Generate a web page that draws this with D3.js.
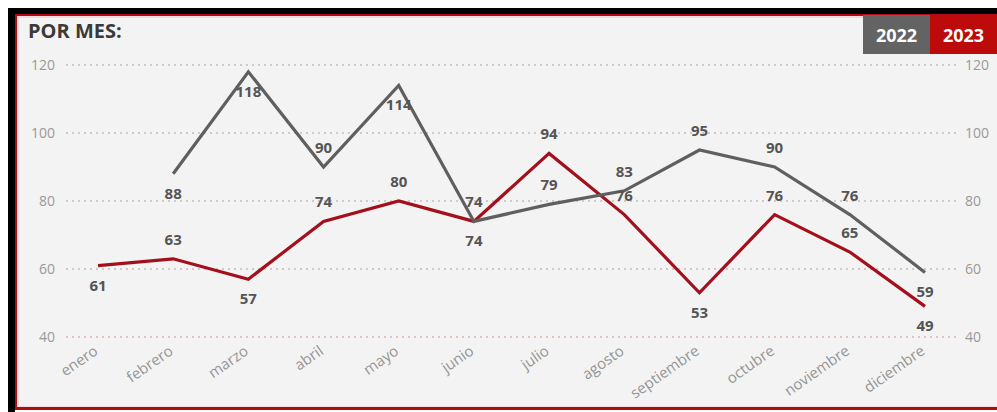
<!DOCTYPE html>
<html><head><meta charset="utf-8">
<script src="https://cdn.jsdelivr.net/npm/d3@7"></script>
<style>
html,body{margin:0;padding:0;background:#fff;overflow:hidden;}
svg{display:block;font-family:"Open Sans",sans-serif;}
</style></head>
<body>
<svg id="c" width="997" height="412"></svg>
<script>
const months = ["enero","febrero","marzo","abril","mayo","junio","julio","agosto","septiembre","octubre","noviembre","diciembre"];
const values2022 = [null,88,118,90,114,74,79,83,95,90,76,59];
const values2023 = [61,63,57,74,80,74,94,76,53,76,65,49];
const labelSide2022 = ["","below","below","above","below","below","above","above","above","above","above","below"];
const labelSide2023 = ["below","above","below","above","above","above","above","above","below","above","above","below"];
const yTicks = [40,60,80,100,120];
const seriesNames = ["2022","2023"];

const svg = d3.select("#c");
// frame (black top & left, thin red inner border)
svg.append("rect").attr("x",8).attr("y",8).attr("width",1000).attr("height",6).attr("fill","#000");
svg.append("rect").attr("x",8).attr("y",8).attr("width",7).attr("height",404).attr("fill","#000");
svg.append("rect").attr("x",15).attr("y",14).attr("width",1000).attr("height",396).attr("fill","#b00d12");
svg.append("rect").attr("x",17).attr("y",16).attr("width",1000).attr("height",391).attr("fill","#f0dcdc");
svg.append("rect").attr("x",19).attr("y",18).attr("width",1000).attr("height",388).attr("fill","#f3f3f3");

const x = d3.scalePoint().domain(months).range([98,925]);
const y = d3.scaleLinear().domain([40,120]).range([337,65]);

// grid
const grid = svg.append("g");
grid.selectAll("line").data(yTicks).join("line")
  .attr("x1",66).attr("x2",957)
  .attr("y1",d=>y(d)).attr("y2",d=>y(d))
  .attr("stroke",d=>d===40?"#dcb4b4":"#c4bcbc").attr("stroke-width",1.3)
  .attr("stroke-dasharray","2,4");

// axes
const axL = svg.append("g").attr("transform","translate(55,0)")
  .call(d3.axisLeft(y).tickValues(yTicks).tickSize(0).tickPadding(0));
const axR = svg.append("g").attr("transform","translate(965,0)")
  .call(d3.axisRight(y).tickValues(yTicks).tickSize(0).tickPadding(0));
[axL,axR].forEach(a=>{
  a.select(".domain").remove();
  a.selectAll("text").attr("fill","#999").style("font-size","14px").style("font-family","'Open Sans',sans-serif");
});
const axB = svg.append("g").attr("transform","translate(0,344)")
  .call(d3.axisBottom(x).tickSize(0).tickPadding(0));
axB.select(".domain").remove();
axB.selectAll("text")
  .attr("fill","#959595").style("font-size","15px").style("font-family","'Open Sans',sans-serif")
  .attr("text-anchor","end").attr("dy","0.75em")
  .attr("transform","translate(-6,0) rotate(-35)");

// lines
const line = d3.line().defined(d=>d.v!=null).x(d=>x(d.m)).y(d=>y(d.v));
const d22 = months.map((m,i)=>({m, v:values2022[i], side:labelSide2022[i]}));
const d23 = months.map((m,i)=>({m, v:values2023[i], side:labelSide2023[i]}));
svg.append("path").datum(d23).attr("d",line).attr("fill","none")
  .attr("stroke","#a3101c").attr("stroke-width",3.2).attr("stroke-linejoin","miter");
svg.append("path").datum(d22).attr("d",line).attr("fill","none")
  .attr("stroke","#5f5f5f").attr("stroke-width",3.2).attr("stroke-linejoin","miter");

// labels
function labels(data){
  svg.append("g").selectAll("text").data(data.filter(d=>d.v!=null)).join("text")
    .attr("x",d=>x(d.m)).attr("y",d=>y(d.v)+(d.side==="above"?-14:25))
    .attr("text-anchor","middle").attr("fill","#555").style("font-size","15px").style("font-weight","bold")
    .style("font-family","'Open Sans',sans-serif")
    .text(d=>d.v);
}
labels(d23);
labels(d22);

// title
svg.append("text").attr("x",28).attr("y",38).text("POR MES:")
  .attr("fill","#3a3a3a").style("font-size","20px").style("font-weight","bold");

// legend
const leg = svg.append("g");
const legColors = ["#636363","#bd0a0a"];
const legX = [863,930], legW=[67,67];
seriesNames.forEach((s,i)=>{
  leg.append("rect").attr("x",legX[i]).attr("y",15).attr("width",legW[i]).attr("height",39).attr("fill",legColors[i]);
  leg.append("text").attr("x",legX[i]+legW[i]/2).attr("y",42).attr("text-anchor","middle")
    .attr("fill","#fff").style("font-size","18px").style("font-weight","bold").text(s);
});
</script>
</body></html>
